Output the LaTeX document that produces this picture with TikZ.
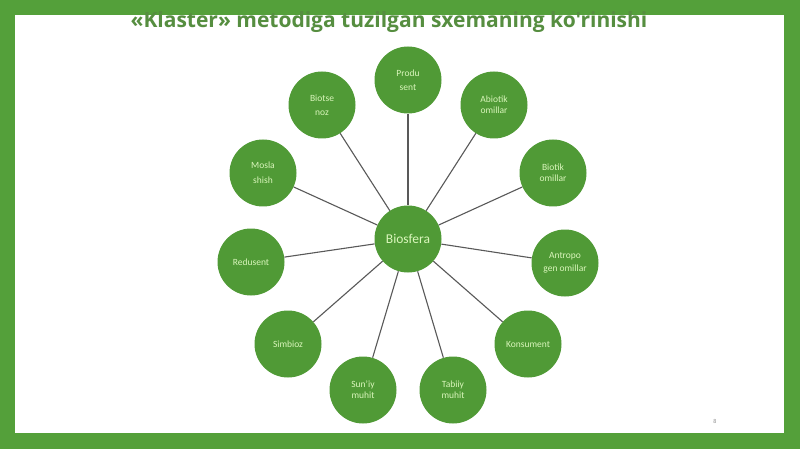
\documentclass[tikz,border=0pt]{standalone}
\usepackage{fontspec}
\setmainfont{Carlito}
\newfontfamily\titlefont{Open Sans}
\usetikzlibrary{positioning}
\definecolor{frame}{RGB}{84,160,58}
\definecolor{disc}{RGB}{80,154,54}
\definecolor{caption}{RGB}{86,142,64}
\definecolor{txt}{RGB}{218,246,188}

\begin{document}
\begin{tikzpicture}[x=1pt,y=-1pt,
	topic/.style={circle, fill=disc, minimum size=67pt, inner sep=0pt, text=txt, align=center, font=\fontsize{9.5}{11}\selectfont},
	hub/.style={topic, font=\fontsize{13.5}{15}\selectfont},
	link/.style={draw=black!65, line width=1.1pt}]
	% frame
	\fill[frame] (0,0) rectangle (800,449);
	\fill[white] (15,15) rectangle (784,433);
	\node[text=caption, font=\titlefont\fontsize{21}{24}\bfseries] (title) at (389,22) {«Klaster» metodiga tuzilgan sxemaning ko'rinishi};
	
	\node[hub] (bio) at (408,239) {Biosfera};
	\node[topic] (prod) at (408,80) {Produ\\[3pt]sent};
	\node[topic] (btsn) at (322,105) {Biotse\\[3pt]noz};
	\node[topic] (abio) at (494,105) {Abiotik\\omillar};
	\node[topic] (mosl) at (263,173) {Mosla\\[4pt]shish};
	\node[topic] (biot) at (553,173) {Biotik\\omillar};
	\node[topic] (reds) at (251,262) {Redusent};
	\node[topic] (antr) at (565,263) {Antropo\\[2pt]gen omillar};
	\node[topic] (simb) at (288,344) {Simbioz};
	\node[topic] (kons) at (528,344) {Konsument};
	\node[topic] (suni) at (363,390) {Sun'iy\\muhit};
	\node[topic] (tabi) at (453,390) {Tabiiy\\muhit};
	
	\path[link] (bio) edge (prod)
	(bio) edge (btsn)
	(bio) edge (abio)
	(bio) edge (mosl)
	(bio) edge (biot)
	(bio) edge (reds)
	(bio) edge (antr)
	(bio) edge (simb)
	(bio) edge (kons)
	(bio) edge (suni)
	(bio) edge (tabi);
	
	\node[text=black!45, font=\fontsize{6}{7}\selectfont] (num) at (715,421) {8};
\end{tikzpicture}
\end{document}
